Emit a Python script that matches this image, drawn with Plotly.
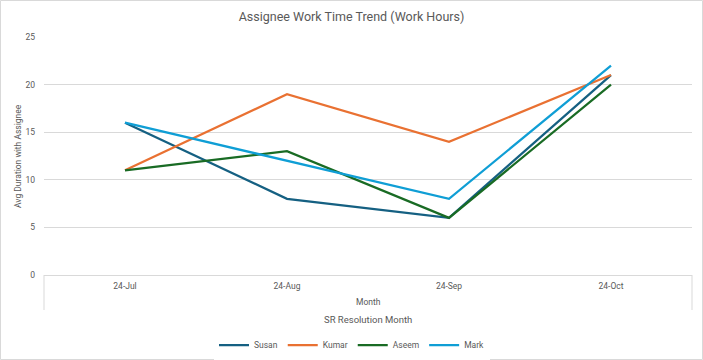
import plotly.graph_objects as go

months = ["24-Jul", "24-Aug", "24-Sep", "24-Oct"]
susan = [16, 8, 6, 21]
kumar = [11, 19, 14, 21]
aseem = [11, 13, 6, 20]
mark = [16, 12, 8, 22]

series = [("Susan", susan, "#156082"), ("Kumar", kumar, "#E97132"),
          ("Aseem", aseem, "#196B24"), ("Mark", mark, "#0F9ED5")]

FONT = "Roboto, Arial, sans-serif"
GREY = "#595959"

fig = go.Figure()
for name, vals, col in series:
    fig.add_trace(go.Scatter(x=months, y=vals, name=name, mode="lines",
                             line=dict(color=col, width=2.25)))

W, H = 703, 360
L, R, T, B = 44, 11, 37, 85
pw, ph = W - L - R, H - T - B

def px(x):
    return (x - L) / pw

def py(y):
    return (H - B - y) / ph

shapes = [
    dict(type="line", xref="paper", yref="paper", x0=0, x1=0, y0=0, y1=py(310),
         line=dict(color="#D9D9D9", width=1)),
    dict(type="line", xref="paper", yref="paper", x0=1, x1=1, y0=0, y1=py(310),
         line=dict(color="#D9D9D9", width=1)),
    dict(type="rect", xref="paper", yref="paper", x0=px(0.5), x1=px(702.5),
         y0=py(359.5), y1=py(0.5), line=dict(color="#D9D9D9", width=1)),
]

annotations = [
    dict(text="Month", xref="paper", yref="paper", x=0.5, y=py(302),
         xanchor="center", yanchor="middle",
         showarrow=False, font=dict(size=8.5, color=GREY, family=FONT)),
    dict(text="SR Resolution Month", xref="paper", yref="paper", x=0.5, y=py(319),
         xanchor="center", yanchor="middle",
         showarrow=False, font=dict(size=9.5, color=GREY, family=FONT)),
    dict(text="Avg Duration with Assignee", xref="paper", yref="paper",
         x=px(18), y=0.5, xanchor="center", yanchor="middle",
         textangle=-90, showarrow=False,
         font=dict(size=8.5, color=GREY, family=FONT)),
]

fig.update_layout(
    width=W, height=H,
    margin=dict(l=L, r=R, t=T, b=B, autoexpand=False),
    paper_bgcolor="white", plot_bgcolor="white",
    font=dict(family=FONT, color=GREY, size=8.5),
    title=dict(text="Assignee Work Time Trend (Work Hours)", x=0.5, xanchor="center",
               y=1 - 17 / H, yanchor="middle",
               font=dict(size=12.5, color=GREY, family=FONT)),
    xaxis=dict(type="category", range=[-0.5, 3.5], showgrid=False, automargin=False,
               showline=True, linecolor="#D9D9D9", linewidth=1,
               ticks="", tickfont=dict(size=8.5, color=GREY), ticklabelstandoff=3),
    yaxis=dict(range=[0, 25], dtick=5, showgrid=True, gridcolor="#D9D9D9",
               gridwidth=1, zeroline=False, showline=False, ticks="", automargin=False,
               tickfont=dict(size=8.5, color=GREY), ticklabelstandoff=8),
    legend=dict(orientation="h", x=px(352), xanchor="center", y=py(345),
                yanchor="middle", font=dict(size=8.5, color=GREY),
                itemwidth=30, tracegroupgap=0),
    shapes=shapes,
    annotations=annotations,
)

fig.write_html("out.html", config={"displayModeBar": False},
               post_script="document.body.style.margin='0px';document.body.style.overflow='hidden';")
